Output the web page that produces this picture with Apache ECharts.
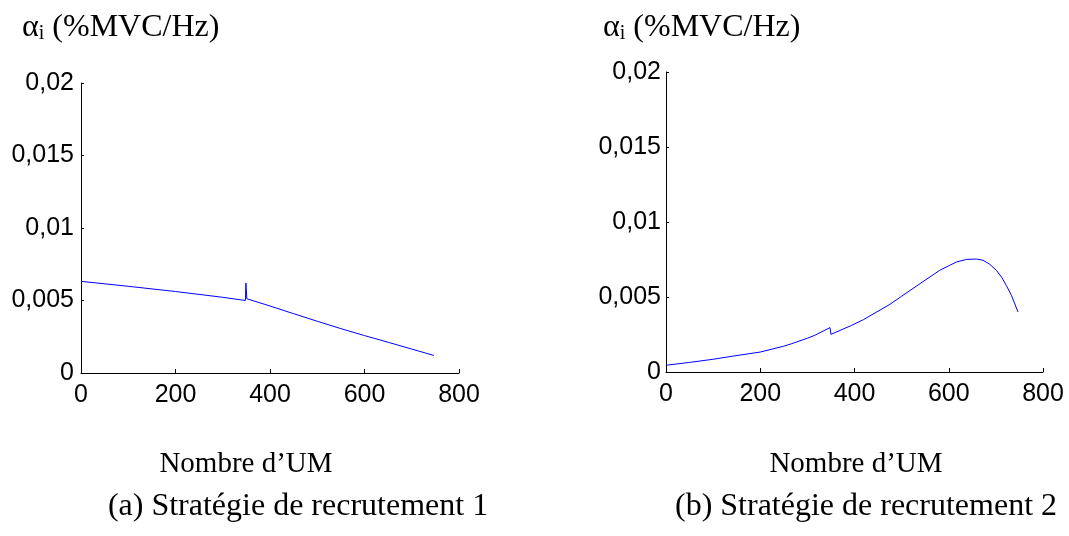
<!DOCTYPE html>
<html>
<head>
<meta charset="utf-8">
<script src="https://cdn.jsdelivr.net/npm/echarts@6/dist/echarts.min.js"></script>
<style>
html,body{margin:0;padding:0;background:#fff;}
#chart{width:1069px;height:536px;}
</style>
</head>
<body>
<div id="chart"></div>
<script>
// Strategy 1 (left panel)
const x1 = [0, 100, 200, 300, 348, 349, 351, 400, 450, 500, 550, 600, 650, 700, 747];
const y1 = [0.00632, 0.00598, 0.00562, 0.00522, 0.00500, 0.00620, 0.00512, 0.00462, 0.00409, 0.00357, 0.00306, 0.00258, 0.00212, 0.00165, 0.00121];
// Strategy 2 (right panel)
const x2 = [0, 50, 100, 140, 200, 250, 267, 300, 316, 348, 350, 394, 419, 475, 500, 539, 581, 600, 616, 638, 659, 673, 687, 701, 712, 722, 733, 747];
const y2 = [0.00045, 0.00064, 0.00085, 0.00105, 0.00133, 0.00172, 0.00189, 0.00225, 0.00245, 0.00296, 0.00251, 0.00311, 0.00349, 0.00451, 0.00505, 0.00589, 0.00678, 0.00708, 0.00733, 0.00751, 0.00753, 0.00745, 0.00718, 0.00678, 0.00633, 0.00578, 0.00511, 0.00400];
const xTicks = [0, 200, 400, 600, 800];
const yTickLabels = ['0', '0,005', '0,01', '0,015', '0,02'];
const yTitle = 'α';
const ySub = 'i';
const yUnit = ' (%MVC/Hz)';
const xTitle = 'Nombre d\u2019UM';
const captions = ['(a) Stratégie de recrutement 1', '(b) Stratégie de recrutement 2'];

const chart = echarts.init(document.getElementById('chart'), null, {renderer: 'canvas'});

function xAxis(gi) {
  return {
    type: 'value', gridIndex: gi, min: 0, max: 800, interval: 200,
    axisLine: {show: true, lineStyle: {color: '#000', width: 1}},
    axisTick: {show: true, inside: true, length: 4, lineStyle: {color: '#000'}},
    axisLabel: {color: '#000', fontFamily: 'Liberation Sans', fontSize: 25, margin: 10},
    splitLine: {show: false}
  };
}
function yAxis(gi, margin) {
  return {
    type: 'value', gridIndex: gi, min: 0, max: 0.02, interval: 0.005,
    axisLine: {show: true, lineStyle: {color: '#000', width: 1}},
    axisTick: {show: true, inside: true, length: 3, lineStyle: {color: '#000'}},
    axisLabel: {color: '#000', fontFamily: 'Liberation Sans', fontSize: 25, margin: margin,
      formatter: (v, i) => yTickLabels[i]},
    splitLine: {show: false}
  };
}
const serif = 'Liberation Serif';
function titleText(left) {
  return {
    type: 'text', left: left, top: 12,
    style: {
      rich: {
        a: {fontFamily: serif, fontSize: 32, fill: '#000'},
        s: {fontFamily: serif, fontSize: 20, fill: '#000', padding: [12, 0, 0, 0]}
      },
      text: '{a|' + yTitle + '}{s|' + ySub + '}{a|' + yUnit + '}'
    }
  };
}
function centerText(txt, cx, cy, size) {
  return {
    type: 'text', x: cx, y: cy,
    style: {text: txt, fontFamily: serif, fontSize: size, fill: '#000', align: 'center', verticalAlign: 'middle'}
  };
}

chart.setOption({
  animation: false,
  backgroundColor: '#fff',
  grid: [
    {left: 81, top: 83, width: 378, height: 290},
    {left: 666, top: 72, width: 377, height: 300}
  ],
  xAxis: [xAxis(0), xAxis(1)],
  yAxis: [yAxis(0, 7), yAxis(1, 5)],
  series: [
    {type: 'line', xAxisIndex: 0, yAxisIndex: 0, showSymbol: false, symbol: 'none',
     lineStyle: {color: '#0000ff', width: 1}, data: x1.map((x, i) => [x, y1[i]])},
    {type: 'line', xAxisIndex: 1, yAxisIndex: 1, showSymbol: false, symbol: 'none',
     lineStyle: {color: '#0000ff', width: 1}, data: x2.map((x, i) => [x, y2[i]])}
  ],
  graphic: [
    titleText(22),
    titleText(603),
    centerText(xTitle, 246, 464, 29),
    centerText(xTitle, 856, 464, 29),
    centerText(captions[0], 298, 507, 32),
    centerText(captions[1], 866, 507, 32)
  ]
});
</script>
</body>
</html>
